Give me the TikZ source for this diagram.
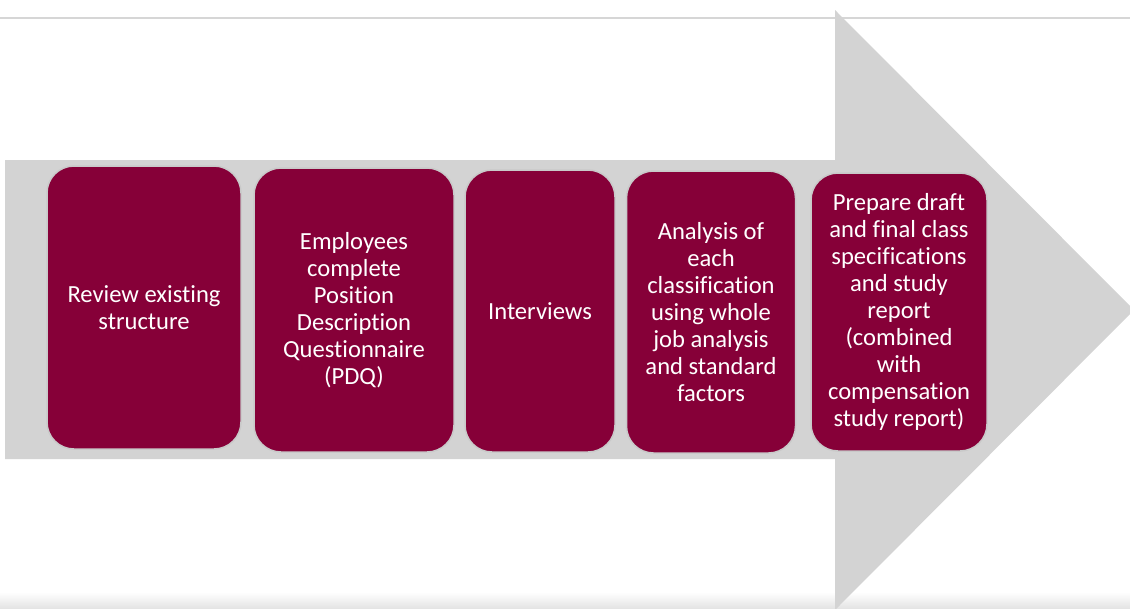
\documentclass[tikz,border=0pt]{standalone}
\usepackage{fontspec}
\setmainfont{Carlito}[Ligatures=NoCommon]
\definecolor{arrowgray}{HTML}{D3D3D3}
\definecolor{rulegray}{HTML}{D6D6D6}
\definecolor{maroon}{HTML}{860038}
\definecolor{halo}{HTML}{C9C9C9}
\definecolor{edgeshade}{HTML}{E4E4E4}
\begin{document}
\begin{tikzpicture}[x=1pt,y=-1pt,
  stepbox/.style={rectangle, rounded corners=27pt, fill=maroon, draw=halo,
    line width=1.5pt, text=white, align=center, inner sep=0pt,
    font=\fontsize{24.6}{27.1}\selectfont}]
\useasboundingbox (0,0) rectangle (1130,608);
\fill[white] (0,0) rectangle (1130,608);
% faint shade along the lower edge
\shade[top color=white, bottom color=edgeshade] (0,592) rectangle (1130,608);
% thin rule across the top
\draw[rulegray, line width=1.5pt] (0,18) -- (1130,18);
% the big process arrow
\fill[arrowgray] (5,160) -- (835,160) -- (835,10) -- (1134,310)
  -- (835,610) -- (835,459) -- (5,459) -- cycle;
% process steps
\node[stepbox, minimum width=194pt, minimum height=283pt] (b1) at (144,307.5)
  {Review existing\\structure};
\node[stepbox, minimum width=200pt, minimum height=284pt] (b2) at (354,310)
  {Employees\\complete\\Position\\Description\\Questionnaire\\(PDQ)};
\node[stepbox, minimum width=150pt, minimum height=282pt] (b3) at (540,311)
  {Interviews};
\node[stepbox, minimum width=169pt, minimum height=282pt] (b4) at (711,312)
  {Analysis of\\each\\classification\\using whole\\job analysis\\and standard\\factors};
\node[stepbox, minimum width=176pt, minimum height=278pt] (b5) at (899,312)
  {Prepare draft\\and final class\\specifications\\and study\\report\\(combined\\with\\compensation\\study report)};
\end{tikzpicture}
\end{document}
